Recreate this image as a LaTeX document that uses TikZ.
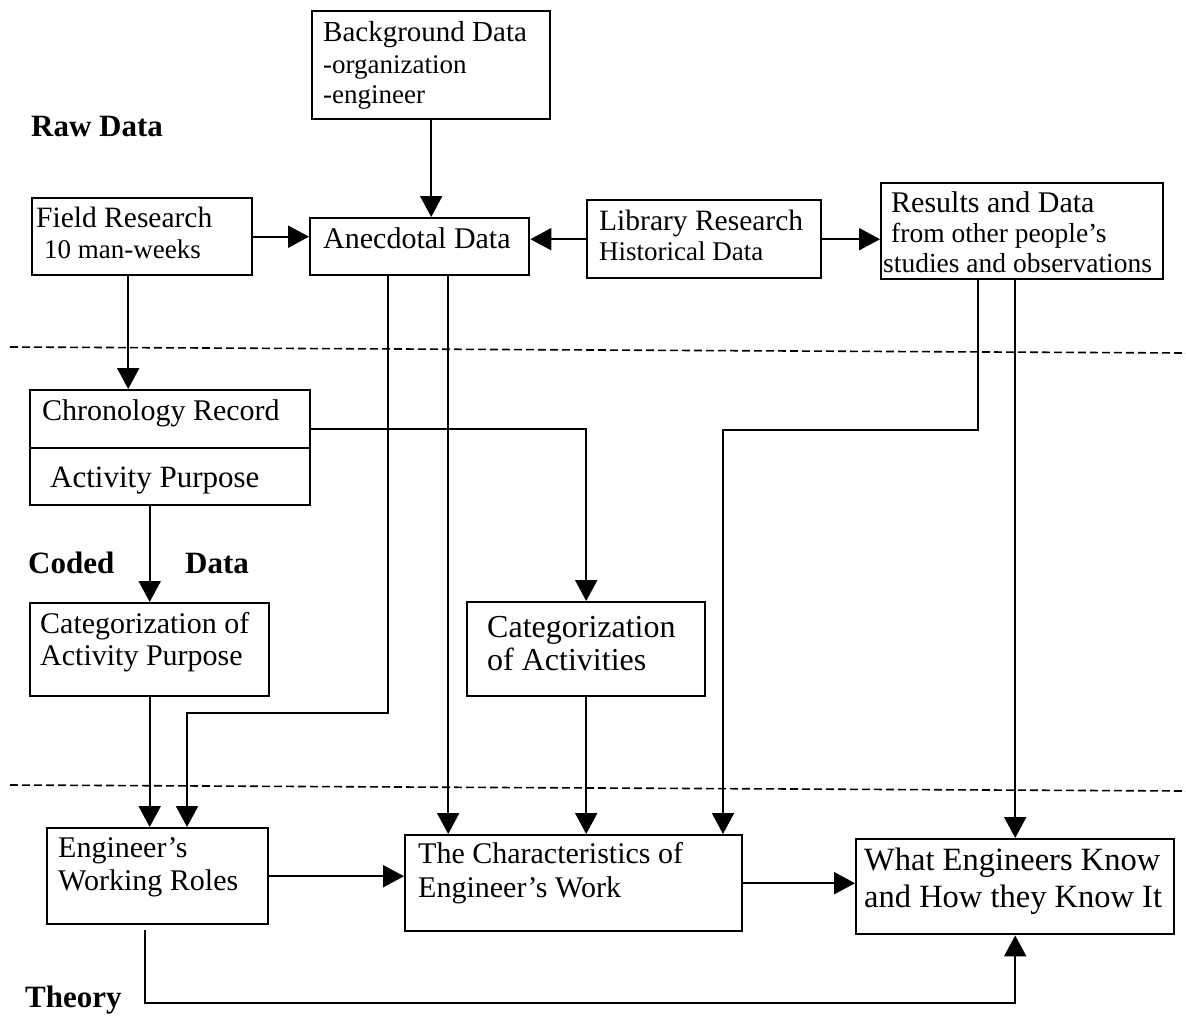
\documentclass[tikz,border=0pt]{standalone}
\usepackage{fontspec}
\setmainfont{Liberation Serif}
\usetikzlibrary{arrows.meta,calc}
\newcommand\fsz[1]{\fontsize{#1}{#1}\selectfont}
\tikzset{
  bx/.style={draw, line width=2.4pt, inner sep=0pt, anchor=north west},
  tx/.style={anchor=base west, inner sep=0pt},
  arr/.style={line width=2.2pt, -{Triangle[length=21pt,width=22pt]}},
  dashln/.style={line width=1.6pt, dash pattern=on 8pt off 4pt},
  lbl/.style={tx, font=\fsz{31}\bfseries}
}
\begin{document}
\begin{tikzpicture}[x=1pt,y=-1pt]
\useasboundingbox (0,0) rectangle (1186,1021);

% boxes
\node[bx, minimum width=238pt, minimum height=108pt] (bg) at (311,10) {};
\node[bx, minimum width=220pt, minimum height=77pt] (field) at (31,197) {};
\node[bx, minimum width=219pt, minimum height=57pt] (anec) at (309,217) {};
\node[bx, minimum width=234pt, minimum height=78pt] (lib) at (586,199) {};
\node[bx, minimum width=282pt, minimum height=96pt] (res) at (880,182) {};
\node[bx, minimum width=280pt, minimum height=58pt] (chronA) at (29,389) {};
\node[bx, minimum width=280pt, minimum height=57pt] (chronB) at (29,447) {};
\node[bx, minimum width=239pt, minimum height=93pt] (catAP) at (29,602) {};
\node[bx, minimum width=238pt, minimum height=94pt] (catAct) at (466,601) {};
\node[bx, minimum width=221pt, minimum height=96pt] (eng) at (46,827) {};
\node[bx, minimum width=337pt, minimum height=96pt] (char) at (404,834) {};
\node[bx, minimum width=318pt, minimum height=95pt] (what) at (855,838) {};

% texts
\node[tx, font=\fsz{29}] (bg1) at (323,41) {Background Data};
\node[tx, font=\fsz{27}] (bg2) at (323,73) {-organization};
\node[tx, font=\fsz{27}] (bg3) at (323,103) {-engineer};
\node[tx, font=\fsz{29.5}] (fr1) at (36,227) {Field Research};
\node[tx, font=\fsz{27}] (fr2) at (44,258) {10 man-weeks};
\node[tx, font=\fsz{30}] (an1) at (323,248) {Anecdotal Data};
\node[tx, font=\fsz{29.5}] (lb1) at (599,230) {Library Research};
\node[tx, font=\fsz{27}] (lb2) at (599,260) {Historical Data};
\node[tx, font=\fsz{30}] (rs1) at (891,212) {Results and Data};
\node[tx, font=\fsz{27.5}] (rs2) at (891,242) {from other people's};
\node[tx, font=\fsz{27.5}] (rs3) at (883,272) {studies and observations};
\node[tx, font=\fsz{30}] (cr1) at (42,420) {Chronology Record};
\node[tx, font=\fsz{31}] (cr2) at (50,487) {Activity Purpose};
\node[tx, font=\fsz{30}] (ca1) at (40,633) {Categorization of};
\node[tx, font=\fsz{30}] (ca2) at (40,665) {Activity Purpose};
\node[tx, font=\fsz{32}] (ct1) at (487,637) {Categorization};
\node[tx, font=\fsz{32}] (ct2) at (487,670) {of Activities};
\node[tx, font=\fsz{30}] (en1) at (58,857) {Engineer's};
\node[tx, font=\fsz{30}] (en2) at (58,890) {Working Roles};
\node[tx, font=\fsz{30}] (ch1) at (418,863) {The Characteristics of};
\node[tx, font=\fsz{30}] (ch2) at (418,897) {Engineer's Work};
\node[tx, font=\fsz{32.5}] (wh1) at (864,870) {What Engineers Know};
\node[tx, font=\fsz{32.5}] (wh2) at (864,907) {and How they Know It};

\node[lbl] (raw) at (31,136) {Raw Data};
\node[lbl] (coded) at (28,573) {Coded};
\node[lbl] (cdata) at (185,573) {Data};
\node[lbl] (theory) at (25,1007) {Theory};

% dashed separators
\coordinate (d1a) at (10,347); \coordinate (d1b) at (1186,353);
\coordinate (d2a) at (10,785); \coordinate (d2b) at (1186,791);
\draw[dashln] (d1a) -- (d1b);
\draw[dashln] (d2a) -- (d2b);

% bend points
\coordinate (b1) at (187,713);
\coordinate (b2) at (723,430);
\coordinate (tb) at (0,1003);

% connectors
\draw[arr] (bg.south) -- (bg.south |- anec.north);
\draw[arr] (field.east) -- (field.east -| anec.west);
\draw[arr] (lib.west) -- (lib.west -| anec.east);
\draw[arr] (lib.east) -- (lib.east -| res.west);
\draw[arr] ([xshift=-14pt]field.south) -- ([xshift=-14pt]field.south |- chronA.north);
\draw[arr] ([yshift=-10pt]chronA.east) -| (catAct.north);
\draw[arr] (catAP.north |- chronB.south) -- (catAP.north);
\draw[arr] (catAP.south) -- (catAP.south |- eng.north);
\draw[arr] ([xshift=-31.5pt]anec.south) |- (b1) -- (b1 |- eng.north);
\draw[arr] ([xshift=28.5pt]anec.south) -- ([xshift=28.5pt]anec.south |- char.north);
\draw[arr] (catAct.south) -- (catAct.south |- char.north);
\draw[arr] ([xshift=-44pt]res.south) |- (b2) -- (b2 |- char.north);
\draw[arr] (what.north |- res.south) -- (what.north);
\draw[arr] (eng.east) -- (eng.east -| char.west);
\draw[arr] (char.east) -- (char.east -| what.west);
\draw[arr] ([xshift=-12.5pt,yshift=-5pt]eng.south) |- (tb -| what.south) -- (what.south);
\end{tikzpicture}
\end{document}
